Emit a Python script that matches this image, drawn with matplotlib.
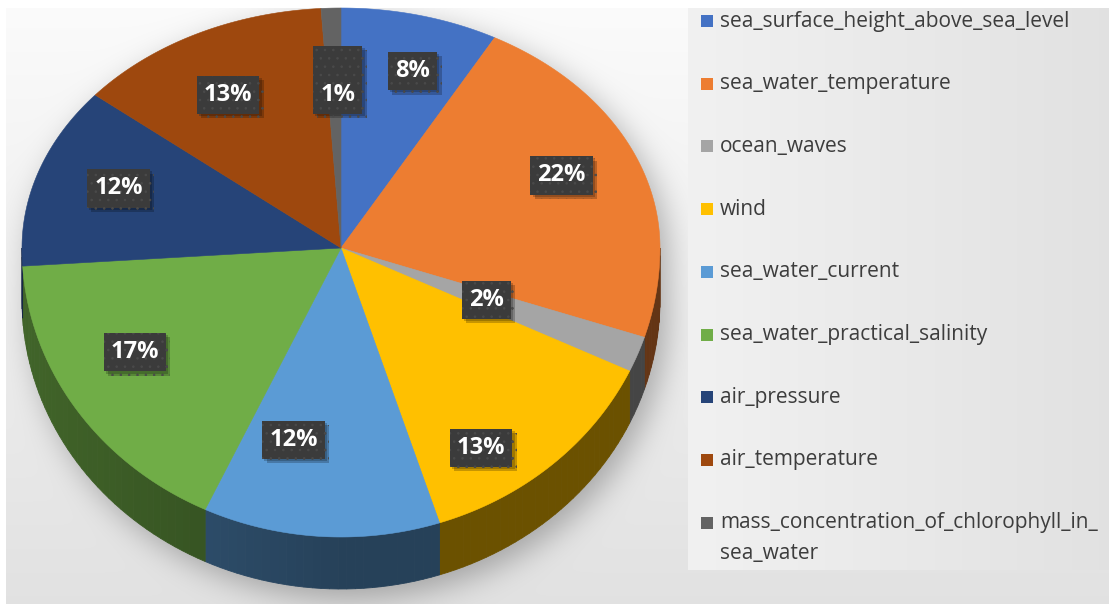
import numpy as np
import matplotlib
matplotlib.use('Agg')
import matplotlib.pyplot as plt
import matplotlib.patheffects as pe
from matplotlib.patches import Polygon, Rectangle

categories = ['sea_surface_height_above_sea_level', 'sea_water_temperature', 'ocean_waves',
              'wind', 'sea_water_current', 'sea_water_practical_salinity', 'air_pressure',
              'air_temperature', 'mass_concentration_of_chlorophyll_in_\nsea_water']
values = [8, 22, 2, 13, 12, 17, 12, 13, 1]
colors = ['#4472C4', '#ED7D31', '#A5A5A5', '#FFC000', '#5B9BD5',
          '#70AD47', '#264478', '#9E480E', '#636363']

# label placement (radial fraction, angle tweak in degrees)
label_r = [0.77, 0.755, 0.49, 0.82, 0.68, 0.74, 0.74, 0.73, 0.70]
label_dt = [2.6, -2, 0, 9, 9, 5, 1.6, -2, 1]

W, H = 1109, 604
CX, CY = 341, 248
RX, RY_TOP, RY_BOT = 319, 240, 289
DEPTH = 52

plt.rcParams['hatch.linewidth'] = 0.6


def rim(t):
    t = np.asarray(t, dtype=float)
    c = np.cos(t)
    ry = np.where(c > 0, RY_TOP, RY_BOT)
    return CX + RX * np.sin(t), CY - ry * c


def silhouette(xx, yy):
    dx = (xx - CX) / RX

    def inside(shift):
        dy = yy - CY - shift
        ry = np.where(dy < 0, RY_TOP, RY_BOT)
        return dx ** 2 + (dy / ry) ** 2 <= 1

    band = (np.abs(dx) <= 1) & (yy >= CY) & (yy <= CY + DEPTH)
    return (inside(0) | inside(DEPTH) | band).astype(float)


def blur(img, sigma):
    pad = int(4 * sigma)
    p = np.pad(img, pad)
    ky = np.fft.fftfreq(p.shape[0])
    kx = np.fft.fftfreq(p.shape[1])
    g = np.exp(-2 * (np.pi * sigma) ** 2 * (ky[:, None] ** 2 + kx[None, :] ** 2))
    out = np.real(np.fft.ifft2(np.fft.fft2(p) * g))
    return out[pad:-pad, pad:-pad]


fig = plt.figure(figsize=(11.09, 6.04), dpi=100)
ax = fig.add_axes([0, 0, 1, 1])
ax.set_xlim(0, W)
ax.set_ylim(H, 0)
ax.axis('off')

# background with soft drop shadow of the pie
yy, xx = np.mgrid[0:H, 0:W] + 0.5
shadow = blur(silhouette(xx - 8, yy - 10), 15)
base = 0.985 - 0.10 * (yy / H)
bg = base * (1 - 0.28 * shadow)
bg[:8, :] = 1.0
bg[:, :6] = 1.0
ax.imshow(np.dstack([bg, bg, bg]), extent=(0, W, H, 0), zorder=0, interpolation='bilinear')

# legend panel
grad = np.linspace(0.945, 0.885, 200)[None, :].repeat(2, axis=0)
ax.imshow(np.dstack([grad, grad, grad]), extent=(688, W, 570, 8), zorder=1,
          aspect='auto', interpolation='bilinear')

frac = np.array(values, dtype=float) / sum(values)
bounds = 2 * np.pi * np.concatenate([[0], np.cumsum(frac)])

# side wall
for i, col in enumerate(colors):
    a, b = max(bounds[i], np.pi / 2), min(bounds[i + 1], 3 * np.pi / 2)
    if b <= a:
        continue
    rgb = np.array(matplotlib.colors.to_rgb(col))
    ts = np.linspace(a, b, max(2, int(np.degrees(b - a) / 1.5) + 1))
    for t0, t1 in zip(ts[:-1], ts[1:]):
        x, y = rim([t0, t1])
        f = 0.42 + 0.16 * np.clip(-np.sin((t0 + t1) / 2), 0, 1)
        quad = [(x[0], y[0]), (x[1], y[1]), (x[1], y[1] + DEPTH), (x[0], y[0] + DEPTH)]
        ax.add_patch(Polygon(quad, closed=True, fc=rgb * f, ec=rgb * f, lw=0.6, zorder=2))

# top faces
for i, col in enumerate(colors):
    ts = np.linspace(bounds[i], bounds[i + 1], max(3, int(np.degrees(bounds[i + 1] - bounds[i]) * 2)))
    x, y = rim(ts)
    pts = np.vstack([[CX, CY], np.column_stack([x, y])])
    ax.add_patch(Polygon(pts, closed=True, fc=col, ec=col, lw=0.4, zorder=3))

# data labels
for i, v in enumerate(values):
    tm = (bounds[i] + bounds[i + 1]) / 2 + np.radians(label_dt[i])
    c = np.cos(tm)
    ry = RY_TOP if c > 0 else RY_BOT
    lx = CX + label_r[i] * RX * np.sin(tm)
    ly = CY - label_r[i] * ry * c
    txt = f'{v}%' if v >= 2 else f'\n{v}%'
    t = ax.text(lx, ly, txt, ha='center', va='center', fontsize=17, fontweight='bold',
                family='Open Sans', color='white', zorder=6, linespacing=1.3,
                bbox=dict(boxstyle='square,pad=0.3', fc='#3b3b3b', ec='#4a4a4a', lw=0, hatch='..'))
    t.get_bbox_patch().set_path_effects([
        pe.SimplePatchShadow(offset=(3, -3), shadow_rgbFace='black', alpha=0.22),
        pe.SimplePatchShadow(offset=(1.5, -1.5), shadow_rgbFace='black', alpha=0.2),
        pe.Normal()])

# legend
y0, step = 21, 62.7
for i, (name, col) in enumerate(zip(categories, colors)):
    y = y0 + i * step
    ax.add_patch(Rectangle((701, y - 6), 12, 12, fc=col, ec='none', zorder=4))
    for j, line in enumerate(name.split('\n')):
        ax.text(720, y + j * 31, line, ha='left', va='center', fontsize=15,
                family='Open Sans', color='#3d3d3d', zorder=4)

fig.savefig('out.png', dpi=100)
